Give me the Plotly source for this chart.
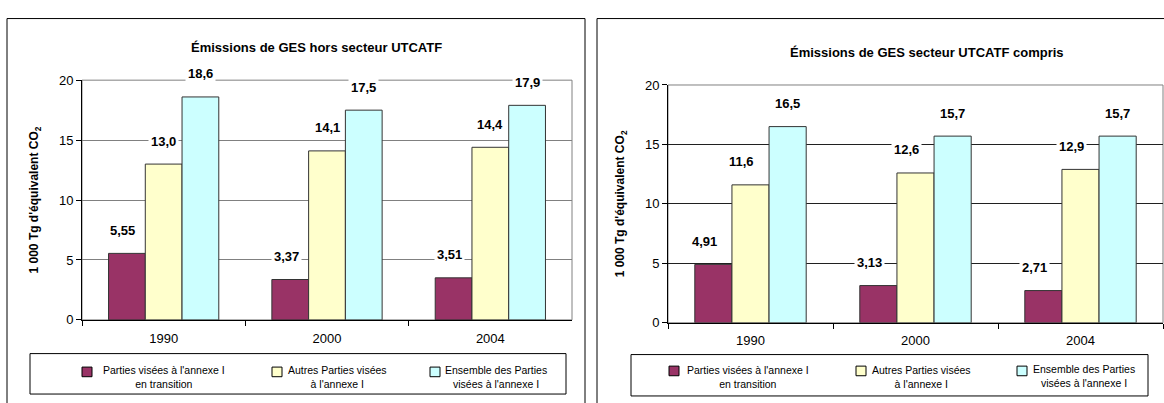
import plotly.graph_objects as go

# Data (1 000 Tg CO2 equivalent)
years = ["1990", "2000", "2004"]
series_names = [
    "Parties visées à l'annexe I<br>en transition",
    "Autres Parties visées<br>à l'annexe I",
    "Ensemble des Parties<br>visées à l'annexe I",
]
colors = ["#993366", "#FFFFCC", "#CCFFFF"]
label_decimals = [2, 1, 1]

# Excluding LULUCF
hors_eit = [5.55, 3.37, 3.51]
hors_autres = [13.0, 14.1, 14.4]
hors_total = [18.6, 17.5, 17.9]

# Including LULUCF
avec_eit = [4.91, 3.13, 2.71]
avec_autres = [11.6, 12.6, 12.9]
avec_total = [16.5, 15.7, 15.7]

titles = ["Émissions de GES hors secteur UTCATF", "Émissions de GES secteur UTCATF compris"]
y_title = "1 000 Tg d'équivalent CO<sub>2</sub>"

W, H = 1164, 403
FONT = "Liberation Sans, Arial, sans-serif"
BARGAP = 0.325


def px(x):
    return x / W


def py(y):
    return 1 - y / H


def fr(v, d):
    return f"{v:.{d}f}".replace(".", ",")


panels = [
    dict(data=[hors_eit, hors_autres, hors_total], xa="x", ya="y",
         plot=(82, 572, 76, 325), frame=(7, 585), title_xy=(316, 42), grid="#808080",
         label_nudge=[-4, 0, 0],
         legend_box=(30, 566, 360, 402),
         legend_items=[(82, 379, 164, 384), (272, 379, 337, 384), (430, 379, 496, 384)]),
    dict(data=[avec_eit, avec_autres, avec_total], xa="x2", ya="y2",
         plot=(668, 1163, 81, 328), frame=(597, 1200), title_xy=(927, 47), grid="#202020",
         label_nudge=[-9, -9, 0],
         legend_box=(631, 1148, 361, 404),
         legend_items=[(669, 378, 748, 384), (856, 378, 921, 384), (1017, 378, 1084, 383)]),
]

fig = go.Figure()
shapes = []
annotations = []

for k, p in enumerate(panels):
    x0, x1, ytop, ybot = p["plot"]
    sfx = "" if k == 0 else "2"
    for i, vals in enumerate(p["data"]):
        fig.add_trace(go.Bar(
            x=years, y=vals, name=series_names[i],
            marker=dict(color=colors[i], line=dict(color="#333333", width=1)),
            xaxis=p["xa"], yaxis=p["ya"], showlegend=False,
        ))
    # category / bar widths in pixels for the value labels
    cat_w = (x1 - x0) / len(years)
    bar_w = cat_w * (1 - BARGAP) / 3
    for i, vals in enumerate(p["data"]):
        for j, v in enumerate(vals):
            annotations.append(dict(
                x=j, y=v, xref=p["xa"], yref=p["ya"], text=fr(v, label_decimals[i]),
                showarrow=False, xshift=(i - 1) * bar_w + p["label_nudge"][i],
                yshift=23, yanchor="middle",
                font=dict(family=FONT, size=13, color="black", weight="bold"),
                bgcolor="white", borderpad=2,
            ))

    fig.update_layout(**{
        "xaxis" + sfx: dict(
            domain=[px(x0), px(x1)], anchor="y" + sfx, type="category",
            categoryorder="array", categoryarray=years,
            range=[-0.5, len(years) - 0.5], autorange=False,
            showline=True, linecolor="black", linewidth=1,
            ticks="outside", ticklen=5, tickcolor="black", tickson="boundaries",
            ticklabelstandoff=6, showgrid=False,
            tickfont=dict(family=FONT, size=13, color="black"),
        ),
        "yaxis" + sfx: dict(
            domain=[py(ybot), py(ytop)], anchor="x" + sfx, range=[0, 20], autorange=False,
            dtick=5, showline=True, linecolor="black", linewidth=1,
            ticks="outside", ticklen=5, tickcolor="black",
            showgrid=True, gridcolor=p["grid"], gridwidth=1, zeroline=False,
            tickfont=dict(family=FONT, size=13, color="black"),
            title=dict(text=y_title, standoff=17,
                       font=dict(family=FONT, size=12, color="black", weight="bold")),
        ),
    })

    # plot-area frame
    shapes.append(dict(type="rect", xref=p["xa"] + " domain", yref=p["ya"] + " domain",
                       x0=0, x1=1, y0=0, y1=1, line=dict(color="#808080", width=1),
                       layer="below"))
    # chart frame
    fx0, fx1 = p["frame"]
    shapes.append(dict(type="rect", xref="paper", yref="paper", x0=px(fx0), x1=px(fx1),
                       y0=py(12), y1=py(420), line=dict(color="black", width=1)))
    # title
    tx, ty = p["title_xy"]
    annotations.append(dict(x=px(tx), y=py(ty), xref="paper", yref="paper", text=titles[k],
                            showarrow=False, xanchor="center", yanchor="middle",
                            font=dict(family=FONT, size=13, color="black", weight="bold")))
    # legend box
    lx0, lx1, ly0, ly1 = p["legend_box"]
    shapes.append(dict(type="rect", xref="paper", yref="paper", x0=px(lx0), x1=px(lx1),
                       y0=py(ly0), y1=py(ly1), line=dict(color="black", width=1),
                       fillcolor="white"))
    for i, (sx, sy, tcx, tcy) in enumerate(p["legend_items"]):
        shapes.append(dict(type="rect", xref="paper", yref="paper",
                           x0=px(sx), x1=px(sx + 10), y0=py(sy - 5), y1=py(sy + 5),
                           line=dict(color="black", width=1), fillcolor=colors[i]))
        annotations.append(dict(x=px(tcx), y=py(tcy), xref="paper", yref="paper",
                                text=series_names[i], showarrow=False, align="center",
                                xanchor="center", yanchor="middle",
                                font=dict(family=FONT, size=10.5, color="black")))

fig.update_layout(
    width=W, height=H, margin=dict(l=0, r=0, t=0, b=0),
    paper_bgcolor="white", plot_bgcolor="white",
    barmode="group", bargap=BARGAP, bargroupgap=0,
    showlegend=False, shapes=shapes, annotations=annotations,
    font=dict(family=FONT, color="black"),
)

fig.write_html("out.html")
